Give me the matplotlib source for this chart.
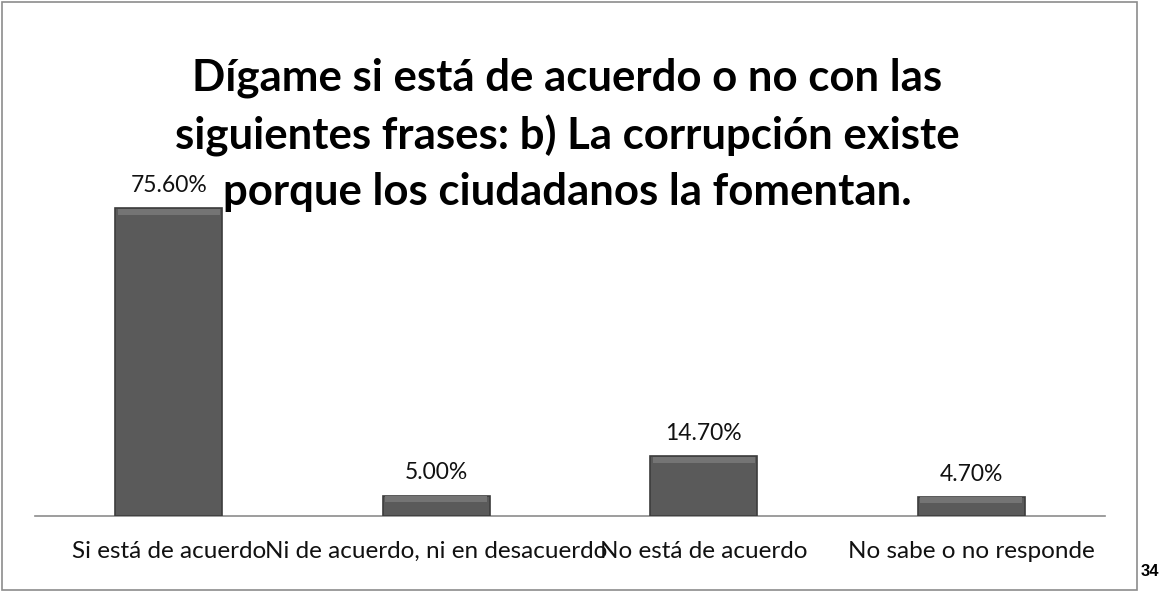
import matplotlib.pyplot as plt
from matplotlib.patches import Rectangle

categories = ["Si está de acuerdo", "Ni de acuerdo, ni en desacuerdo",
              "No está de acuerdo", "No sabe o no responde"]
values = [75.6, 5.0, 14.7, 4.7]
labels = ["75.60%", "5.00%", "14.70%", "4.70%"]
title_lines = ["Dígame si está de acuerdo o no con las",
               "siguientes frases: b) La corrupción existe",
               "porque los ciudadanos la fomentan."]

plt.rcParams['font.family'] = ['Lato', 'DejaVu Sans']

fig = plt.figure(figsize=(11.68, 5.94), dpi=100)

# chart border
fig.patches.append(Rectangle((2 / 1168, 1 - 590 / 594), 1135 / 1168, 588 / 594,
                             transform=fig.transFigure, fill=False,
                             edgecolor='#8c8c8c', linewidth=1.2))

ax = fig.add_axes([35 / 1168, 1 - 516 / 594, 1070 / 1168, 407 / 594])
x = range(len(values))
bars = ax.bar(x, values, width=0.4, color='#5a5a5a', edgecolor='#3c3c3c',
              linewidth=1.2, zorder=3)
# lighter bevel on top of each bar
ax.bar(x, [1.5] * len(values), bottom=[v - 1.6 for v in values], width=0.38,
       color='#747474', linewidth=0, zorder=4)

for b, lab in zip(bars, labels):
    ax.text(b.get_x() + b.get_width() / 2, b.get_height() + 3, lab,
            ha='center', va='bottom', fontsize=16.5, color='#111111')

ax.set_xlim(-0.5, 3.5)
ax.set_ylim(0, 100)
ax.set_xticks(list(x))
ax.set_xticklabels(categories, fontsize=17.5, color='#111111')
ax.tick_params(axis='x', length=0, pad=18)
ax.set_yticks([])
for s in ['top', 'right', 'left']:
    ax.spines[s].set_visible(False)
ax.spines['bottom'].set_color('#8c8c8c')
ax.spines['bottom'].set_linewidth(1.2)

# title, one line at a time
for line, ypix in zip(title_lines, [78, 136, 192]):
    fig.text(567 / 1168, 1 - ypix / 594, line, ha='center', va='center',
             fontsize=31.5, fontweight='bold', color='black')

fig.text(1150 / 1168, 1 - 572 / 594, "34", ha='center', va='center',
         fontsize=12, fontweight='bold', family='Liberation Sans')

fig.savefig('out.png', dpi=100)
